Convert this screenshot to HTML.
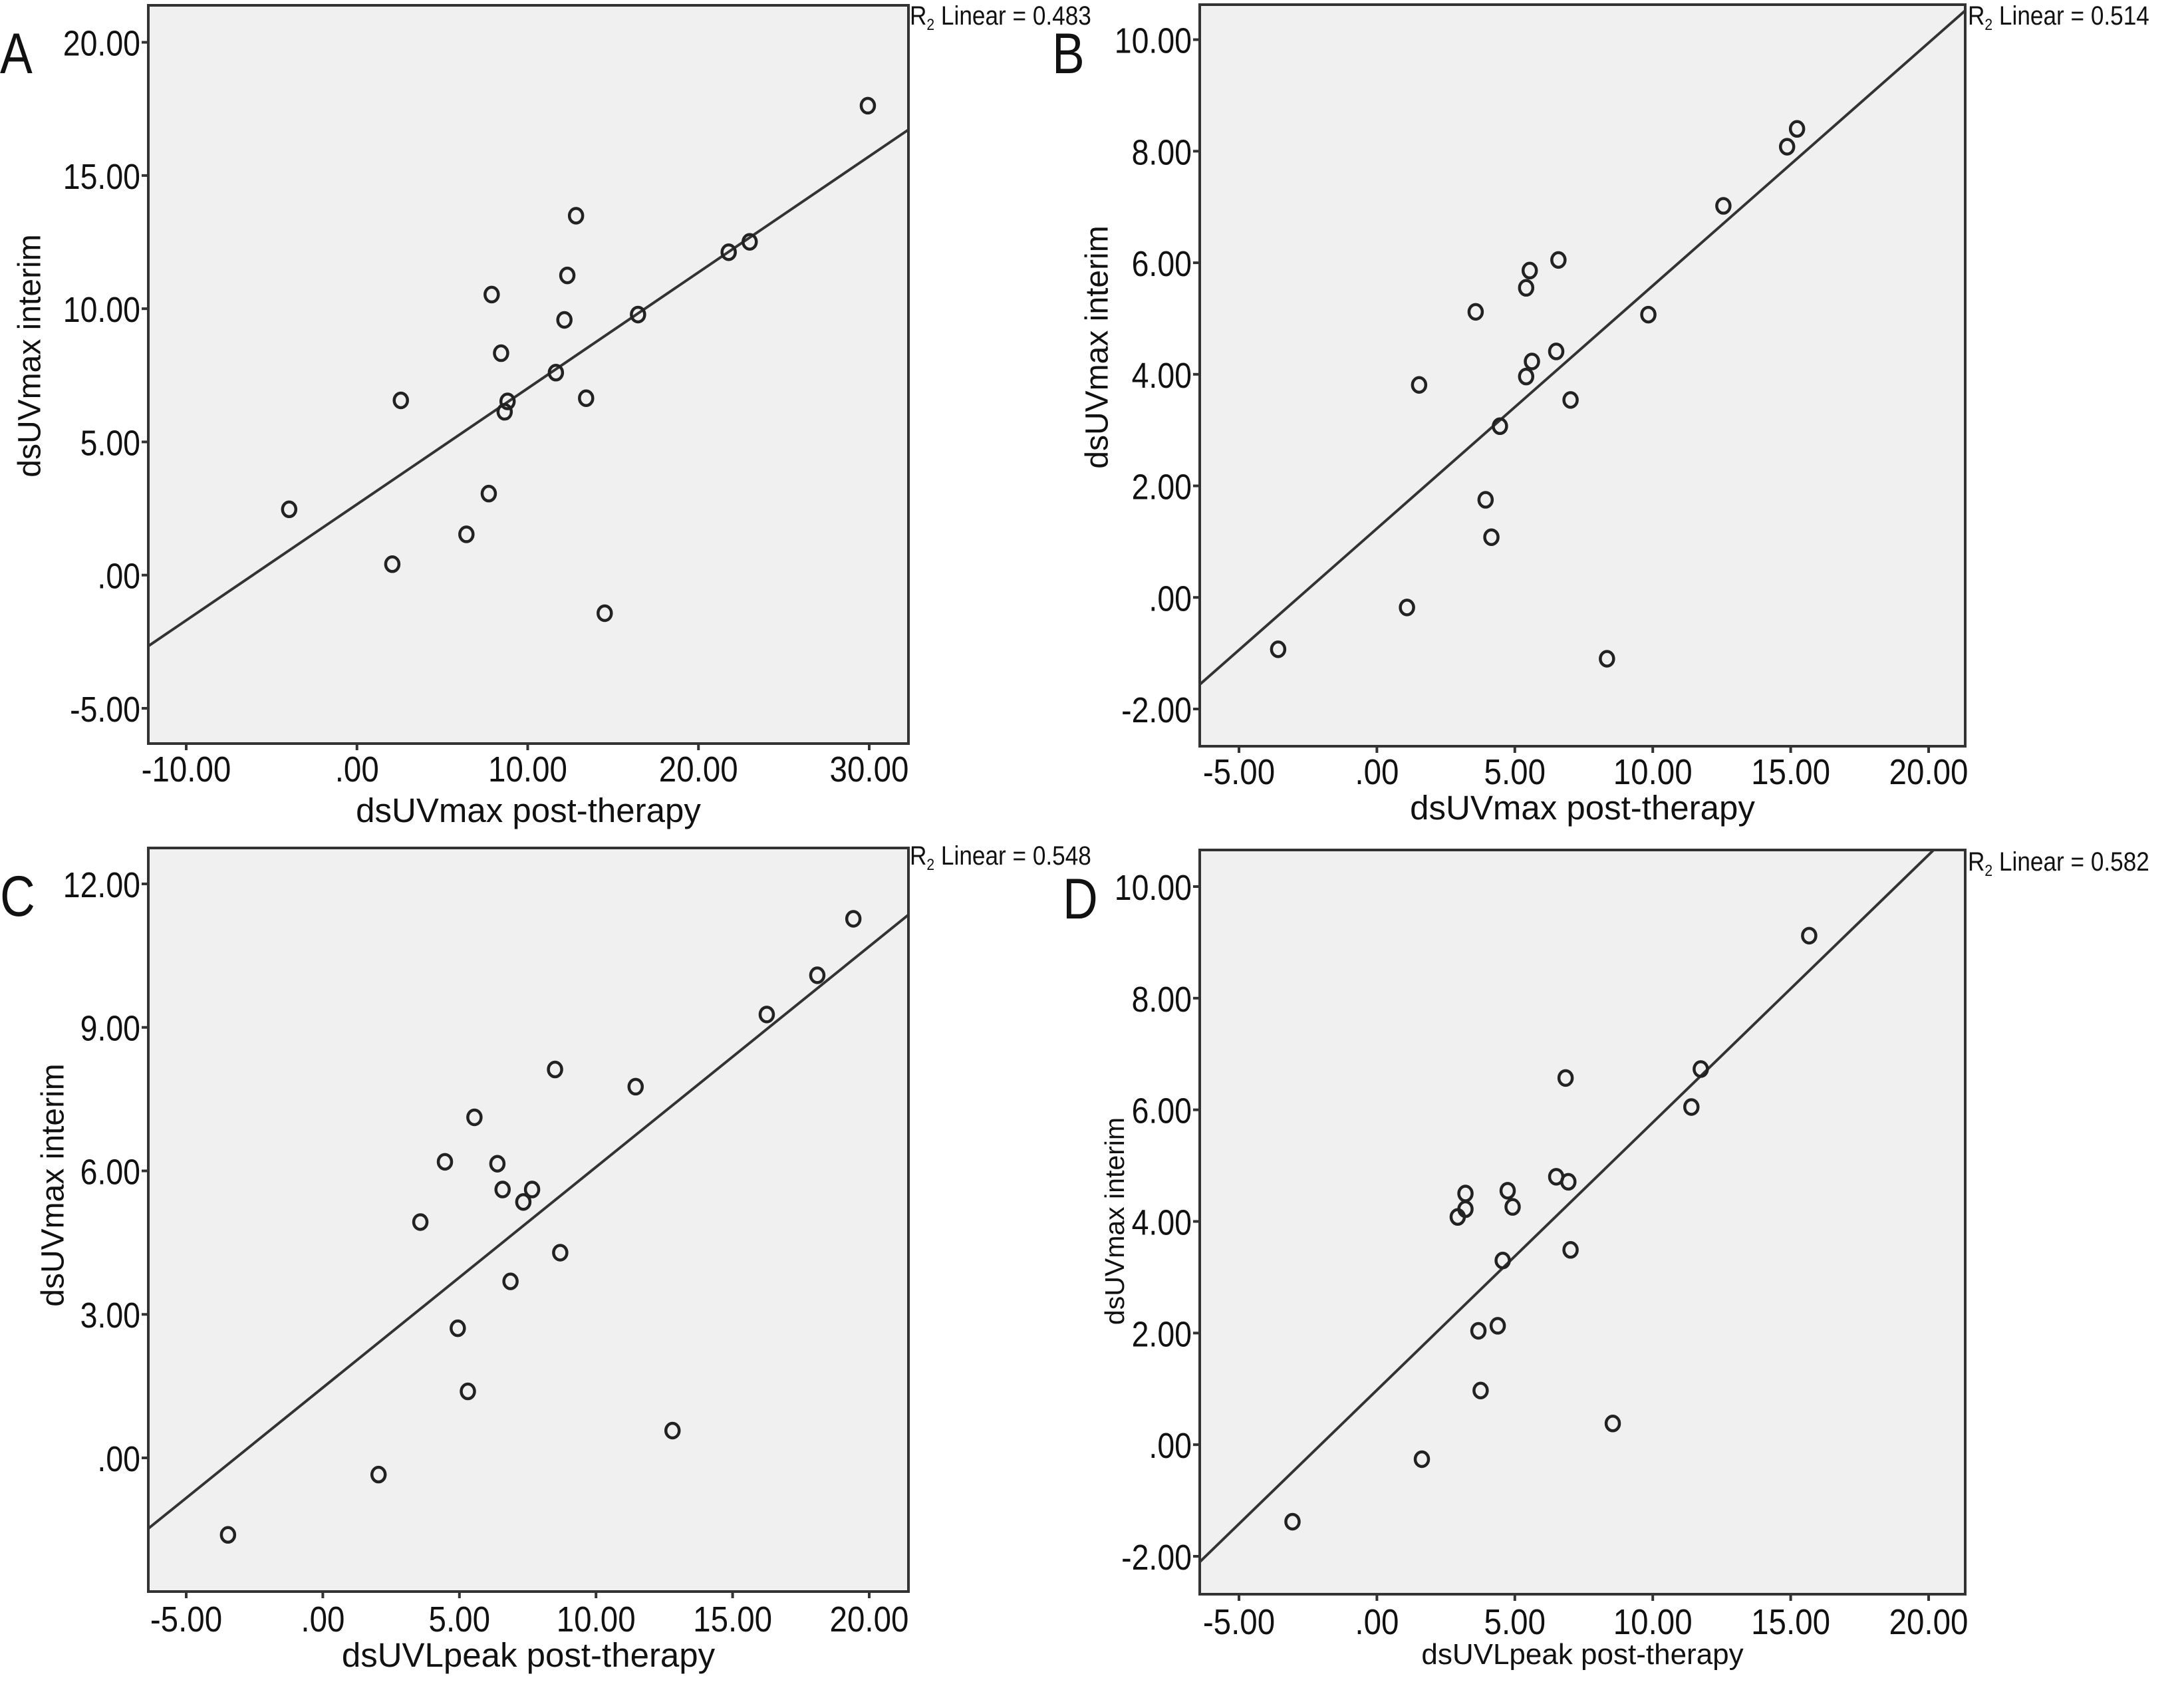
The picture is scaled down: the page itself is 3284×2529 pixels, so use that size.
<!DOCTYPE html>
<html><head><meta charset="utf-8"><style>
html,body{margin:0;padding:0;background:#fff;width:3284px;height:2529px;overflow:hidden}
svg{display:block}
text{font-family:"Liberation Sans",sans-serif;fill:#111}
</style></head><body>
<svg id="chart" xmlns="http://www.w3.org/2000/svg" width="3284" height="2529" viewBox="0 0 3284 2529"></svg>
<script>
// Panel A data
const aX = [-3.97,2.57,2.07,6.41,7.72,7.89,8.44,8.82,8.65,11.65,12.15,12.32,12.83,13.42,14.51,16.46,21.77,23.0,29.92];
const aY = [2.47,6.56,0.41,1.53,3.06,10.53,8.33,6.52,6.13,7.60,9.58,11.25,13.49,6.64,-1.43,9.78,12.12,12.51,17.62];
const aFit = [2.657,0.4354];
const aXTicks = [-10,0,10,20,30];
const aYTicks = [-5,0,5,10,15,20];
// Panel B data
const bX = [-3.58,1.09,1.53,3.58,3.94,4.15,4.46,5.41,5.41,5.54,5.62,6.50,6.58,7.02,8.34,9.84,12.56,14.87,15.23];
const bY = [-0.93,-0.18,3.81,5.12,1.75,1.08,3.07,5.55,3.96,5.86,4.23,4.41,6.05,3.54,-1.10,5.07,7.02,8.08,8.40];
const bFit = [1.235,0.4354];
const bXTicks = [-5,0,5,10,15,20];
const bYTicks = [-2,0,2,4,6,8,10];
// Panel C data
const cX = [-3.47,2.04,3.57,4.47,4.94,5.31,5.55,6.39,6.58,6.87,7.34,7.66,8.50,8.69,11.45,12.80,16.25,18.10,19.42];
const cY = [-1.61,-0.35,4.93,6.19,2.71,1.39,7.12,6.15,5.61,3.69,5.35,5.61,8.12,4.29,7.76,0.57,9.27,10.09,11.27];
const cFit = [1.468,0.4612];
const cXTicks = [-5,0,5,10,15,20];
const cYTicks = [0,3,6,9,12];
// Panel D data
const dX = [-3.06,1.63,2.93,3.21,3.21,3.68,3.76,4.38,4.56,4.74,4.92,6.50,6.84,6.94,7.02,8.55,11.40,11.74,15.67];
const dY = [-1.38,-0.26,4.08,4.22,4.50,2.04,0.97,2.13,3.30,4.55,4.26,4.80,6.57,4.71,3.49,0.38,6.05,6.73,9.12];
const dFit = [0.978,0.4795];
const dXTicks = [-5,0,5,10,15,20];
const dYTicks = [-2,0,2,4,6,8,10];

const NS = "http://www.w3.org/2000/svg";
const svg = document.getElementById('chart');
function mk(tag, attrs, parent){ const e=document.createElementNS(NS,tag); for(const k in attrs) e.setAttribute(k,attrs[k]); (parent||svg).appendChild(e); return e; }
function fmt(v){ if(v===0) return '.00'; return v.toFixed(2); }

const panels = [
 {id:'a', letter:'A', xs:aX, ys:aY, fit:aFit, xt:aXTicks, yt:aYTicks, box:[223,8,1366,1118], xm:[-10,280,30,1307], ym:[20,63.6,-5,1065], r2:'0.483',
  xtitle:'dsUVmax post-therapy', ytitle:'dsUVmax interim', lx:0, ly:110, rx:1368, ry:37, xtb:1175, xtt:1236, ytx:43, yty:535, xfs:51, yfs:48},
 {id:'b', letter:'B', xs:bX, ys:bY, fit:bFit, xt:bXTicks, yt:bYTicks, box:[1804,7,2955,1122], xm:[-5,1863,20,2900], ym:[10,59.6,-2,1066], r2:'0.514',
  xtitle:'dsUVmax post-therapy', ytitle:'dsUVmax interim', lx:1582, ly:110, rx:2959, ry:37, xtb:1179, xtt:1232, ytx:1648, yty:522, xfs:51, yfs:48},
 {id:'c', letter:'C', xs:cX, ys:cY, fit:cFit, xt:cXTicks, yt:cYTicks, box:[223,1275,1366,2393], xm:[-5,280,20,1307], ym:[12,1329,0,2192], r2:'0.548',
  xtitle:'dsUVLpeak post-therapy', ytitle:'dsUVmax interim', lx:0, ly:1377, rx:1368, ry:1300, xtb:2453, xtt:2506, ytx:78, yty:1782, xfs:51, yfs:48},
 {id:'d', letter:'D', xs:dX, ys:dY, fit:dFit, xt:dXTicks, yt:dYTicks, box:[1804,1278,2955,2397], xm:[-5,1863,20,2900], ym:[10,1333,-2,2340], r2:'0.582',
  xtitle:'dsUVLpeak post-therapy', ytitle:'dsUVmax interim', lx:1598, ly:1381, rx:2959, ry:1309, xtb:2457, xtt:2502, ytx:1675, yty:1836, xfs:44, yfs:41}
];

panels.forEach(p=>{
  const g = mk('g',{});
  
  
  const [x0,y0,x1,y1]=p.box;
  const sx = v => p.xm[1] + (v-p.xm[0])*(p.xm[3]-p.xm[1])/(p.xm[2]-p.xm[0]);
  const sy = v => p.ym[1] + (v-p.ym[0])*(p.ym[3]-p.ym[1])/(p.ym[2]-p.ym[0]);
  const bg = mk('rect',{x:x0,y:y0,width:x1-x0,height:y1-y0,fill:'#f0f0f0',stroke:'none'},g);
  
  
  const cp = mk('clipPath',{id:'clip'+p.id},g);
  mk('rect',{x:x0,y:y0,width:x1-x0,height:y1-y0},cp);
  const xa = p.xm[0] - 10, xb = p.xm[2] + 10;
  const ln = mk('line',{x1:sx(xa),y1:sy(p.fit[0]+p.fit[1]*xa),x2:sx(xb),y2:sy(p.fit[0]+p.fit[1]*xb),stroke:'#333','stroke-width':4,'clip-path':'url(#clip'+p.id+')'},g);
  
  
  p.xs.forEach((xv,i)=>{
    const c = mk('ellipse',{cx:sx(xv),cy:sy(p.ys[i]),rx:10,ry:11,fill:'none',stroke:'#222','stroke-width':4.5},g);
    
    
  });
  const br = mk('rect',{x:x0,y:y0,width:x1-x0,height:y1-y0,fill:'none',stroke:'#333','stroke-width':4},g);
  
  
  p.yt.forEach(v=>{
    const yy=sy(v);
    mk('line',{x1:x0-10,y1:yy,x2:x0,y2:yy,stroke:'#333','stroke-width':4},g);
    const t = mk('text',{x:x0-12,y:yy+20,'text-anchor':'end','font-size':54,transform:`translate(${x0-12},${yy}) scale(0.86,1) translate(${-(x0-12)},${-yy})`},g);
    t.textContent = fmt(v);
    
    
  });
  p.xt.forEach(v=>{
    const xx=sx(v);
    mk('line',{x1:xx,y1:y1,x2:xx,y2:y1+10,stroke:'#333','stroke-width':4},g);
    const t = mk('text',{x:xx,y:p.xtb,'text-anchor':'middle','font-size':54,transform:`translate(${xx},0) scale(0.88,1) translate(${-xx},0)`},g);
    t.textContent = fmt(v);
    
    
  });
  const xtitle = mk('text',{x:(x0+x1)/2,y:p.xtt,'text-anchor':'middle','font-size':p.xfs},g);
  xtitle.textContent = p.xtitle;
  
  
  const ytitle = mk('text',{x:0,y:0,'text-anchor':'middle','font-size':p.yfs,transform:`translate(${p.ytx+p.yfs*0.36},${p.yty}) rotate(-90)`},g);
  ytitle.textContent = p.ytitle;
  
  
  const let_ = mk('text',{x:p.lx,y:p.ly,'font-size':86,transform:`translate(${p.lx},0) scale(0.85,1) translate(${-p.lx},0)`},g);
  let_.textContent = p.letter;
  
  
  const r2 = mk('text',{x:p.rx,y:p.ry,'font-size':40,transform:`translate(${p.rx},0) scale(0.88,1) translate(${-p.rx},0)`},g);
  r2.innerHTML = 'R<tspan font-size="24" dy="8">2</tspan><tspan dy="-8"> Linear = '+p.r2+'</tspan>';
  
  
});
</script>
</body></html>
